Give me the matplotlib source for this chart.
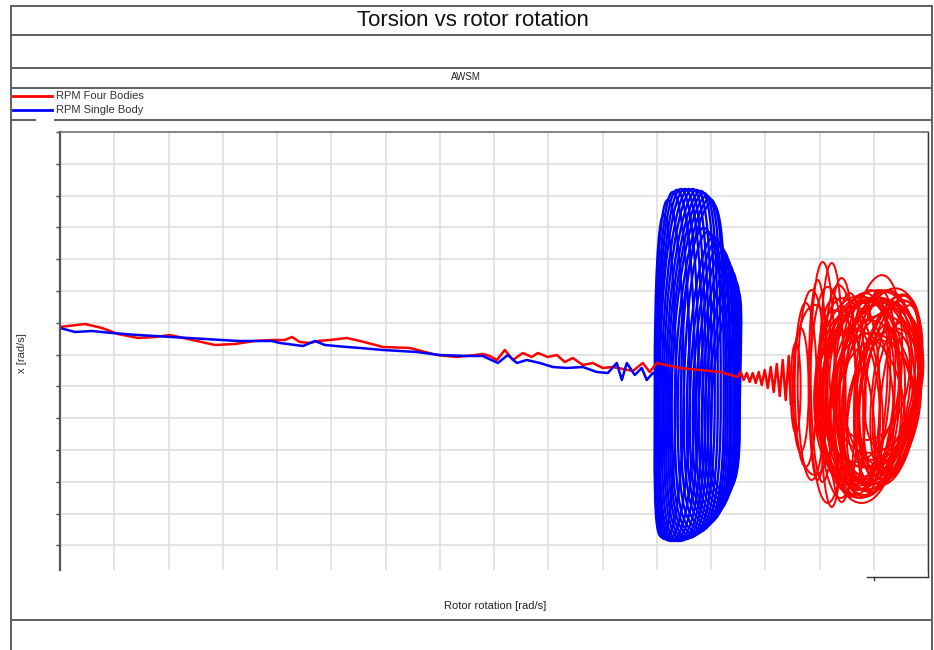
import matplotlib
matplotlib.use('Agg')
import matplotlib.pyplot as plt
from matplotlib.patches import Ellipse, PathPatch
from matplotlib.path import Path
from matplotlib.lines import Line2D

plt.rcParams['font.family'] = ['Liberation Sans', 'DejaVu Sans']

# ---------------- data ----------------
title = "Torsion vs rotor rotation"
subtitle = "AWSM"
series_names = ["RPM Four Bodies", "RPM Single Body"]
x_label = "Rotor rotation [rad/s]"
y_label = "x [rad/s]"

red_x = [0.000, 0.461, 0.774, 1.069, 1.437, 1.750, 2.027, 2.359, 2.856, 3.225, 3.593, 3.906,
         4.146, 4.275, 4.422, 4.607, 4.754, 4.975, 5.288, 5.528, 5.675, 5.952, 6.449, 6.947,
         7.315, 7.647, 7.794, 7.923, 8.052, 8.200, 8.347, 8.531, 8.697, 8.808, 8.992, 9.158,
         9.305, 9.453, 9.637, 9.821, 10.006, 10.190, 10.374, 10.558, 10.742, 10.871, 11.000,
         11.424, 12.161, 12.493, 12.548, 12.603, 12.659, 12.714, 12.769, 12.825, 12.880,
         12.935, 12.991, 13.046, 13.101, 13.156, 13.212, 13.267, 13.322, 13.377, 13.433, 13.470]
red_y = [6.868, 6.962, 6.837, 6.648, 6.522, 6.553, 6.616, 6.491, 6.302, 6.333, 6.428, 6.459,
         6.459, 6.553, 6.396, 6.365, 6.428, 6.459, 6.522, 6.428, 6.365, 6.239, 6.208, 5.987,
         5.925, 5.987, 6.019, 5.956, 5.830, 6.145, 5.830, 6.050, 5.925, 6.050, 5.925, 5.987,
         5.767, 5.893, 5.673, 5.736, 5.579, 5.610, 5.547, 5.484, 5.736, 5.453, 5.736,
         5.579, 5.453, 5.296, 5.453, 5.201, 5.421, 5.138, 5.421, 5.107, 5.453,
         5.044, 5.516, 4.950, 5.610, 4.824, 5.704, 4.698, 5.830, 4.572, 5.956, 4.447]

blue_x = [0.000, 0.276, 0.590, 0.958, 1.437, 1.750, 2.064, 2.672, 3.280, 3.906, 4.054, 4.478,
          4.699, 4.883, 5.288, 5.528, 5.952, 6.578, 7.002, 7.500, 7.794, 8.071, 8.255, 8.421,
          8.605, 8.845, 9.084, 9.342, 9.637, 9.895, 10.098, 10.263, 10.356, 10.448, 10.595,
          10.724, 10.816, 10.927, 11.019]
blue_y = [6.837, 6.711, 6.742, 6.679, 6.616, 6.585, 6.553, 6.491, 6.428, 6.428, 6.365, 6.270,
          6.428, 6.302, 6.239, 6.208, 6.145, 6.082, 5.987, 5.956, 5.956, 5.736, 5.987, 5.736,
          5.830, 5.736, 5.610, 5.579, 5.610, 5.453, 5.421, 5.736, 5.201, 5.736, 5.358,
          5.579, 5.201, 5.421, 5.327]

# red oscillation loops (centre, width, height, tilt)
red_loop_cx = [13.561, 13.654, 13.746, 13.856, 14.059, 14.225, 14.409, 14.556, 13.912, 13.967, 14.151,
               14.980, 15.146, 15.072, 15.256, 14.888, 15.017, 14.775, 14.925, 15.109, 14.738, 14.925,
               15.292, 15.403, 14.833, 14.593, 15.183, 14.962, 15.348, 14.775, 15.035, 14.888, 14.519,
               15.201, 14.740,
               15.017, 14.833, 15.201, 14.925, 15.109, 14.741, 15.294, 14.962, 15.146, 14.685,
               15.386, 14.851, 15.072, 14.556, 15.257, 14.925, 15.036, 14.464, 14.335, 15.478]
red_loop_cy = [4.950, 4.887, 5.044, 5.044, 5.453, 5.044, 4.887, 4.730, 4.887, 5.201, 4.730,
               5.138, 5.044, 4.824, 5.138, 4.635, 4.887, 4.572, 5.138, 4.950, 4.510, 4.730,
               5.201, 4.572, 5.044, 4.635, 4.635, 4.321, 5.359, 5.138, 4.572, 4.950, 4.572,
               4.824, 4.258,
               5.044, 4.887, 4.887, 4.572, 5.359, 4.730, 4.730, 4.824, 4.572, 4.950,
               5.044, 4.415, 5.264, 4.415, 4.415, 5.516, 4.258, 4.887, 4.635, 4.887]
red_loop_w = [0.184, 0.295, 0.405, 0.516, 0.442, 0.442, 0.516, 0.590, 0.811, 0.332, 0.663,
              1.032, 1.400, 1.474, 1.106, 1.695, 1.548, 1.474, 1.769, 1.474, 1.253, 1.806,
              1.032, 0.811, 1.106, 1.106, 1.290, 1.548, 0.958, 1.400, 1.658, 1.916, 0.884,
              1.216, 1.658,
              0.737, 0.921, 0.921, 1.290, 1.290, 0.737, 1.106, 0.553, 0.663, 1.548,
              0.811, 1.769, 1.658, 1.106, 1.032, 1.474, 1.474, 0.663, 0.737, 0.663]
red_loop_h = [2.830, 3.899, 5.157, 5.975, 6.918, 7.673, 7.044, 6.415, 5.346, 6.289, 6.792,
              6.730, 6.101, 6.289, 5.535, 6.289, 5.660, 6.478, 5.346, 5.031, 5.975, 5.975,
              5.346, 4.906, 5.786, 6.289, 4.403, 4.717, 4.717, 5.031, 5.346, 6.164, 5.660,
              5.786, 5.031,
              5.975, 6.289, 5.346, 5.975, 5.346, 5.975, 5.660, 5.660, 4.717, 5.786,
              5.660, 5.346, 4.717, 5.660, 4.717, 4.403, 4.403, 6.604, 6.289, 5.346]
red_loop_angle = [0, 0, 0, 0, 0, 0, 0, 0, 0, 0, 0,
                  -3, -5, -3, -6, -3, -5, 0, -3, -7, 2, -2,
                  -5, -3, 0, 3, -6, 0, -5, -3, -3, -4, 5,
                  -7, 3,
                  -2, -2, -4, -2, -3, 0, -3, -2, -2, -1,
                  -4, -1, -4, 2, -2, -2, -1, 2, 1, -4]

# blue oscillation loops (top point, left/right side at mid height, bottom point)
blue_top_x = [11.129, 11.203, 11.295, 11.369, 11.442, 11.516, 11.590, 11.663, 11.737, 11.811,
              11.866, 11.921, 11.977, 12.013, 11.866, 11.940, 12.050, 12.106, 12.161, 12.216,
              12.271, 12.327, 12.382, 12.437, 12.474]
blue_top_y = [10.390, 10.862, 11.113, 11.176, 11.208, 11.208, 11.208, 11.208, 11.176, 11.145,
              11.082, 10.988, 10.893, 10.768, 9.981, 9.855, 9.698, 9.572, 9.415, 9.258,
              9.038, 8.818, 8.598, 8.315, 8.032]
blue_left_x = [10.963, 10.982, 11.000, 11.018, 11.037, 11.055, 11.092, 11.129, 11.166, 11.203,
               11.240, 11.276, 11.332, 11.387, 11.442, 11.498, 11.553, 11.608, 11.663, 11.719,
               11.774, 11.829, 11.884, 11.940, 11.995]
blue_right_x = [11.350, 11.498, 11.608, 11.700, 11.774, 11.848, 11.903, 11.958, 12.013, 12.069,
                12.124, 12.179, 12.234, 12.271, 12.308, 12.345, 12.363, 12.382, 12.419, 12.437,
                12.455, 12.474, 12.493, 12.511, 12.529]
blue_mid_y = [5.201, 5.201, 5.044, 5.044, 4.887, 4.887, 4.730, 4.730, 4.572, 4.572,
              4.415, 4.415, 4.258, 4.258, 4.195, 4.132, 4.101, 4.069, 4.006, 3.943,
              3.912, 3.881, 3.818, 3.786, 3.723]
blue_bot_x = [11.092, 11.147, 11.203, 11.258, 11.313, 11.369, 11.424, 11.479, 11.534, 11.590,
              11.645, 11.700, 11.755, 11.811, 11.866, 11.921, 11.958, 11.995, 12.032, 12.069,
              12.106, 12.142, 12.179, 12.216, 12.253]
blue_bot_y = [0.264, 0.201, 0.170, 0.138, 0.138, 0.138, 0.138, 0.170, 0.201, 0.233,
              0.296, 0.358, 0.421, 0.516, 0.610, 0.704, 0.799, 0.893, 0.987, 1.082,
              1.208, 1.333, 1.459, 1.585, 1.711]

x_ticks = list(range(0, 17))
y_ticks = list(range(0, 14))

# ---------------- styles ----------------
RED = '#ff0000'
BLUE = '#0000ff'
FRAME = '#5f5f5f'
W, H = 934, 650


def fx(px):
    return px / W


def fy(py):
    return 1 - py / H


def loop_path(xt, yt, xl, xr, ym, xb, yb):
    k = 0.55
    wt = (xr - xl) * 0.5 * k
    wb = (xr - xl) * 0.5 * 0.85
    verts = [
        (xb, yb),
        (xb - wb, yb), (xl, ym - k * (ym - yb)), (xl, ym),
        (xl, ym + k * (yt - ym)), (xt - wt, yt), (xt, yt),
        (xt + wt, yt), (xr, ym + k * (yt - ym)), (xr, ym),
        (xr, ym - k * (ym - yb)), (xb + wb, yb), (xb, yb),
    ]
    codes = [Path.MOVETO] + [Path.CURVE4] * 12
    return Path(verts, codes)


fig = plt.figure(figsize=(W / 100, H / 100), dpi=100)
fig.patch.set_facecolor('white')

# outer frame / table lines
for py in [6, 35, 68, 88, 620]:
    fig.add_artist(Line2D([fx(10.5), fx(932)], [fy(py), fy(py)], color=FRAME, lw=1.4))
fig.add_artist(Line2D([fx(10.5), fx(35)], [fy(120), fy(120)], color=FRAME, lw=1.4))
fig.add_artist(Line2D([fx(55), fx(932)], [fy(120), fy(120)], color=FRAME, lw=1.4))
fig.add_artist(Line2D([fx(10.5), fx(10.5)], [fy(6), fy(650)], color=FRAME, lw=1.4))
fig.add_artist(Line2D([fx(932), fx(932)], [fy(6), fy(650)], color=FRAME, lw=1.4))

fig.text(fx(473), fy(20), title, ha='center', va='center', fontsize=16, color='#111111')
fig.text(fx(466), fy(77), subtitle, ha='center', va='center', fontsize=7, color='#222222')

# legend
fig.add_artist(Line2D([fx(13), fx(52)], [fy(96), fy(96)], color=RED, lw=2))
fig.add_artist(Line2D([fx(13), fx(52)], [fy(110), fy(110)], color=BLUE, lw=2))
fig.text(fx(56), fy(96), series_names[0], ha='left', va='center', fontsize=8, color='#333333')
fig.text(fx(56), fy(110), series_names[1], ha='left', va='center', fontsize=8, color='#333333')

fig.text(fx(22), fy(353), y_label, rotation=90, ha='center', va='center', fontsize=8, color='#333333')
fig.text(fx(495), fy(606), x_label, ha='center', va='center', fontsize=8, color='#222222')

# axes
ax = fig.add_axes([fx(60), fy(570), (928 - 60) / W, (570 - 132) / H])
ax.set_xlim(0, 16)
ax.set_ylim(-0.774, 13.0)
ax.set_xticks(x_ticks)
ax.set_yticks(y_ticks)
ax.grid(True, color='#dddddd', lw=1.1)
ax.set_axisbelow(True)
ax.tick_params(axis='x', length=0, labelbottom=False)
ax.tick_params(axis='y', length=3, width=1, colors='#444444', labelleft=False, direction='out')
ax.spines['bottom'].set_visible(False)
ax.spines['left'].set_color('#555555')
ax.spines['left'].set_linewidth(1.6)
ax.spines['top'].set_color('#666666')
ax.spines['top'].set_linewidth(1.1)
ax.spines['right'].set_color('#333333')
ax.spines['right'].set_linewidth(1.0)

# red series
ax.plot(red_x, red_y, color=RED, lw=1.8, solid_joinstyle='round')
for cx, cy, w, h, a in zip(red_loop_cx, red_loop_cy, red_loop_w, red_loop_h, red_loop_angle):
    ax.add_patch(Ellipse((cx, cy), w, h, angle=a, fill=False, edgecolor=RED, lw=1.4))

# blue series
ax.plot(blue_x, blue_y, color=BLUE, lw=1.8, solid_joinstyle='round')
for xt, yt, xl, xr, ym, xb, yb in zip(blue_top_x, blue_top_y, blue_left_x, blue_right_x,
                                       blue_mid_y, blue_bot_x, blue_bot_y):
    ax.add_patch(PathPatch(loop_path(xt, yt, xl, xr, ym, xb, yb), fill=False,
                           edgecolor=BLUE, lw=1.7))

# small bracket at lower right of plot
fig.add_artist(Line2D([fx(928), fx(928)], [fy(570), fy(577)], color='#333333', lw=1.0))
fig.add_artist(Line2D([fx(867), fx(928)], [fy(577), fy(577)], color='#333333', lw=1.0))
fig.add_artist(Line2D([fx(874), fx(874)], [fy(577), fy(580)], color='#333333', lw=1.0))

fig.savefig('out.png', dpi=100)
